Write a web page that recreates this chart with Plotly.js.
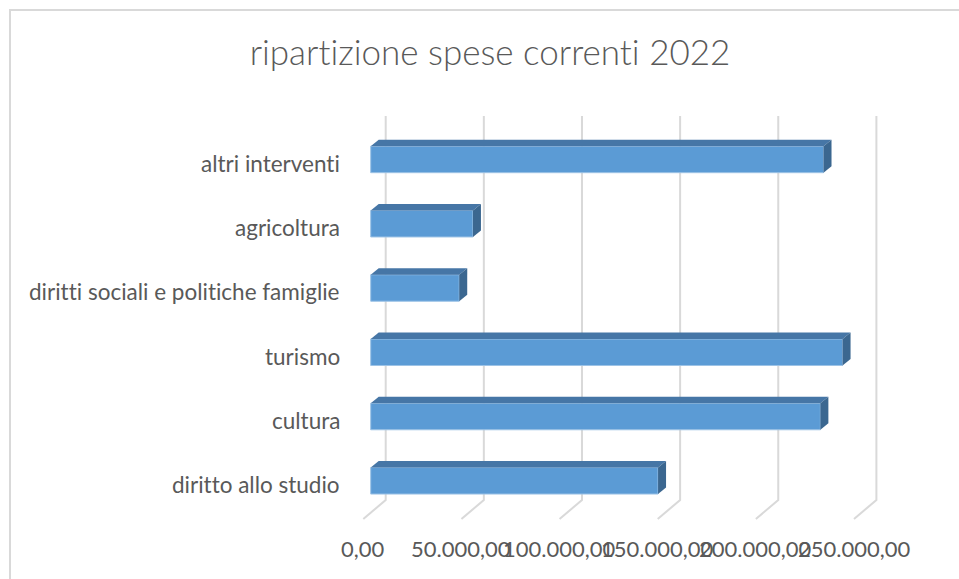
<!DOCTYPE html>
<html>
<head>
<meta charset="utf-8">
<script src="https://cdn.plot.ly/plotly-3.0.1.min.js"></script>
<style>
  html, body { margin: 0; padding: 0; background: #ffffff; overflow: hidden; }
  #chart { width: 959px; height: 579px; position: relative; }
  #frame { position: absolute; left: 9px; top: 9px; width: 1200px; height: 1200px;
           border: 2px solid #d9d9d9; pointer-events: none; box-sizing: border-box; }
  svg text { font-variant-ligatures: none !important; font-feature-settings: "liga" 0, "clig" 0, "dlig" 0 !important; }
</style>
</head>
<body>
<div id="chart"></div>
<div id="frame"></div>
<script>
// ---- data ----
const categories = ['diritto allo studio', 'cultura', 'turismo',
  'diritti sociali e politiche famiglie', 'agricoltura', 'altri interventi'];
const values = [146400, 229100, 240400, 45100, 52100, 230700];
const tickValues = [0, 50000, 100000, 150000, 200000, 250000];
const tickLabels = ['0,00', '50.000,00', '100.000,00', '150.000,00', '200.000,00', '250.000,00'];
const chartTitle = 'ripartizione spese correnti 2022';

// ---- geometry / style (pixels converted to data units through the fixed axis ranges) ----
const W = 959, H = 579;
const M = {l: 300, r: 59, t: 100, b: 49};
const PXX = 98.14 / 50000;   // px per x unit
const PXY = 64.27;           // px per category step
const X0PX = 370.7, Y0PX = 480.8;
const xRange = [(M.l - X0PX) / PXX, (W - M.r - X0PX) / PXX];
const yRange = [(Y0PX - (H - M.b)) / PXY, (Y0PX - M.t) / PXY];
const dx = p => p / PXX, dy = p => p / PXY;
const yAtPx = p => (Y0PX - p) / PXY;

const barW = 26.5 / PXY;
const depX = dx(8), depY = dy(6.5);
const backOff = dx(15), floorFrontOff = dx(-7.4);
const yFloorBack = yAtPx(500), yFloorFront = yAtPx(519), yTop = yAtPx(116);

const FRONT = '#5B9BD5', TOP = '#4676A6', SIDE = '#3B6790', GRID = '#D9D9D9', TXT = '#595959';
const FONT = 'Lato, "Open Sans", sans-serif';

const idx = categories.map((c, i) => i);

// gridlines (floor + back wall), drawn below the bars
const shapes = tickValues.map(v => ({
  type: 'path', xref: 'x', yref: 'y', layer: 'below',
  path: 'M' + (v + floorFrontOff) + ',' + yFloorFront +
        ' L' + (v + backOff) + ',' + yFloorBack +
        ' L' + (v + backOff) + ',' + yTop,
  line: {color: GRID, width: 2}
}));

const traces = [];
// front faces
traces.push({
  type: 'bar', orientation: 'h', x: values, y: idx, width: barW, base: 0,
  marker: {color: FRONT, line: {color: '#9DC3E6', width: 1}}, hoverinfo: 'skip', showlegend: false
});
// 3D top and side faces
values.forEach((v, i) => {
  const yt = i + barW / 2, yb = i - barW / 2;
  traces.push({
    type: 'scatter', mode: 'lines', fill: 'toself', fillcolor: TOP, hoverinfo: 'skip',
    line: {width: 0, color: TOP}, showlegend: false,
    x: [0, v, v + depX, depX, 0], y: [yt, yt, yt + depY, yt + depY, yt]
  });
  traces.push({
    type: 'scatter', mode: 'lines', fill: 'toself', fillcolor: SIDE, hoverinfo: 'skip',
    line: {width: 0, color: SIDE}, showlegend: false,
    x: [v, v + depX, v + depX, v, v], y: [yb, yb + depY, yt + depY, yt, yb]
  });
});

const annotations = [];
categories.forEach((c, i) => annotations.push({
  x: dx(342 - X0PX), y: i, xref: 'x', yref: 'y', xanchor: 'right', yanchor: 'middle',
  yshift: -4, text: c, showarrow: false, font: {family: FONT, size: 22.5, color: TXT}
}));
tickValues.forEach((v, i) => annotations.push({
  x: v + floorFrontOff, y: yFloorFront, xref: 'x', yref: 'y', xanchor: 'center', yanchor: 'middle',
  yshift: -29, text: tickLabels[i], showarrow: false, font: {family: FONT, size: 22, color: TXT}
}));

const layout = {
  width: W, height: H, autosize: false,
  margin: M,
  paper_bgcolor: '#ffffff', plot_bgcolor: 'rgba(0,0,0,0)',
  title: {text: chartTitle, xref: 'container', yref: 'container', x: 490 / W, y: 1 - 53 / H,
          xanchor: 'center', yanchor: 'middle',
          font: {family: FONT, size: 35, weight: 300, color: TXT}},
  xaxis: {range: xRange, fixedrange: true, showgrid: false, zeroline: false, showticklabels: false,
          showline: false, ticks: ''},
  yaxis: {range: yRange, fixedrange: true, showgrid: false, zeroline: false, showticklabels: false,
          showline: false, ticks: '', tickvals: idx, ticktext: categories},
  shapes: shapes,
  annotations: annotations,
  hovermode: false, showlegend: false
};

Plotly.newPlot('chart', traces, layout, {displayModeBar: false, staticPlot: true});
</script>
</body>
</html>
